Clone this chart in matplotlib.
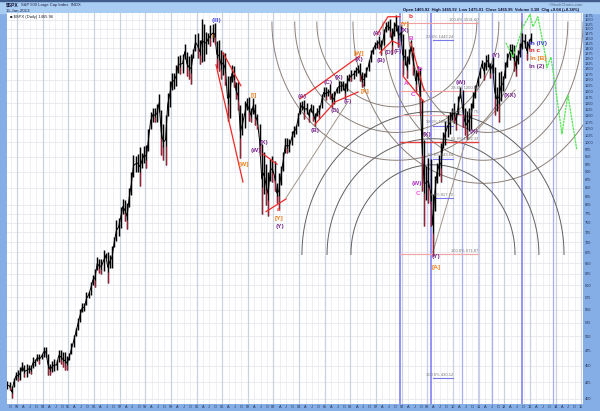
import numpy as np
import matplotlib
matplotlib.use("Agg")
import matplotlib.pyplot as plt
from matplotlib.patches import Rectangle

plt.rcParams['font.family'] = ['Liberation Sans', 'DejaVu Sans']

# ---------- price data: (low, high) per month ----------
start_year = 1992 + 7 / 12
highs = [427,425,419,431,441,
 443,449,456,451,453,452,451,464,462,470,469,470,
 482,482,469,454,458,462,459,477,476,473,473,466,
 472,488,503,515,535,552,563,563,586,587,608,623,
 636,664,660,660,680,673,677,670,690,714,758,762,
 794,818,815,805,851,898,957,954,959,983,963,987,
 992,1050,1113,1132,1130,1145,1190,1121,1066,1103,1192,1244,
 1280,1283,1316,1362,1368,1373,1420,1382,1362,1373,1396,1473,
 1478,1443,1552,1527,1481,1478,1518,1525,1530,1436,1440,1389,
 1383,1376,1268,1269,1316,1312,1239,1239,1143,1110,1160,1173,
 1176,1130,1173,1147,1106,1067,994,965,925,900,941,954,
 935,865,895,919,965,1015,1015,1011,1040,1062,1063,1112,
 1155,1158,1163,1150,1128,1146,1141,1109,1131,1141,1188,1217,
 1217,1212,1230,1191,1200,1220,1246,1245,1243,1234,1271,1276,
 1295,1297,1311,1318,1327,1284,1280,1310,1340,1389,1407,1431,
 1441,1461,1439,1498,1535,1540,1556,1503,1538,1576,1523,1523,
 1471,1396,1359,1397,1440,1404,1293,1313,1303,1167,1007,919,
 944,943,832,888,930,956,996,1039,1080,1101,1113,1130,
 1150,1112,1180,1220,1206,1131,1120,1129,1149,1196,1227,1263,
 1303,1344,1332,1364,1371,1329,1356,1307,1220,1285,1292,1269,
 1333,1378,1420,1422,1415,1364,1392,1426,1475,1470,1434,1448,
 1475]
lows = [414,413,402,418,428,
 427,428,442,432,433,439,438,447,450,458,454,461,
 465,465,436,435,440,442,444,457,454,449,444,443,
 459,470,481,500,511,527,545,547,559,573,580,601,
 597,633,627,625,632,662,605,639,639,687,703,716,
 737,773,756,733,793,829,885,899,899,855,913,928,
 912,969,1047,1076,1074,1074,1114,957,939,923,1098,1136,
 1205,1212,1222,1282,1277,1279,1346,1268,1256,1233,1352,1388,
 1350,1325,1333,1339,1373,1420,1413,1430,1419,1305,1291,1254,
 1274,1228,1081,1091,1241,1219,1168,1124,945,1026,1054,1124,
 1081,1074,1106,1063,1048,952,775,833,800,768,872,869,
 840,806,788,858,902,963,962,965,990,1018,1031,1061,
 1105,1124,1088,1107,1076,1113,1078,1060,1099,1090,1131,1174,
 1163,1180,1168,1136,1146,1191,1194,1201,1205,1168,1202,1246,
 1245,1253,1268,1282,1245,1219,1224,1261,1292,1331,1372,1396,
 1403,1398,1364,1416,1481,1492,1455,1371,1463,1489,1406,1435,
 1270,1317,1257,1324,1386,1272,1200,1248,1106,840,741,815,
 805,741,667,783,866,888,869,979,992,1020,1029,1085,
 1071,1045,1105,1170,1056,1028,1011,1040,1050,1131,1173,1224,
 1257,1302,1249,1295,1311,1258,1283,1101,1118,1074,1158,1202,
 1259,1311,1340,1357,1292,1267,1325,1354,1396,1403,1343,1398,
 1426]

year_ticks = list(range(1993, 2016))
price_ticks = list(range(400, 1600, 25))
grid_prices = list(range(400, 800, 25)) + list(range(800, 1600, 50))

# ---------- analyst annotations (year, price) ----------
wave_labels = [
 ("(III)",2000.76,1544,'#5050e8'),("I",2000.64,1458,'#f08020'),("[I]",2002.24,1181,'#f08020'),
 ("(W)",2002.32,973,'#7a2a90'),("(X)",2002.63,998,'#7a2a90'),("[W]",2001.85,923,'#f08020'),
 ("a",2003.21,786,'#e02020'),("[Y]",2003.21,761,'#f08020'),("(Y)",2003.25,740,'#7a2a90'),
 ("(A)",2004.11,1176,'#7a2a90'),("(C)",2005.12,1237,'#7a2a90'),("(X)",2005.55,1260,'#7a2a90'),
 ("[W]",2006.33,1372,'#f08020'),("(X)",2006.33,1343,'#7a2a90'),("(A)",2007.04,1474,'#7a2a90'),
 ("(B)",2007.19,1338,'#7a2a90'),("(D)",2007.5,1377,'#7a2a90'),("(F)",2007.85,1382,'#7a2a90'),
 ("b",2008.36,1566,'#e02020'),("[Y]",2008.13,1525,'#f08020'),("(X)",2008.13,1489,'#7a2a90'),
 ("B",2008.36,1448,'#e040e0'),("D",2008.71,1296,'#e040e0'),("A",2008.17,1232,'#e040e0'),
 ("C",2008.44,1185,'#e040e0'),("[X]",2006.57,1198,'#f08020'),("(F)",2005.9,1155,'#7a2a90'),
 ("(D)",2005.4,1120,'#7a2a90'),("(B)",2004.62,1044,'#7a2a90'),("(X)",2008.98,1030,'#7a2a90'),
 ("(W)",2008.59,862,'#b030c0'),("C",2008.63,832,'#ff50e8'),("(W)",2010.31,1237,'#7a2a90'),
 ("(X)",2010.82,1040,'#7a2a90'),("(Y)",2011.67,1362,'#7a2a90'),("(XX)",2012.22,1181,'#7a2a90'),
 ("ln (IV)",2013.31,1422,'#4040d8'),("ln c",2013.16,1386,'#e02020'),("ln [B]",2013.31,1348,'#f08020'),
 ("ln (2)",2013.27,1310,'#7a2a90'),("(Y)",2009.34,665,'#7a2a90'),("[A]",2009.34,640,'#f08020'),
]
red_lines = [
 ([2001.03,2001.73],[1377,1224]),
 ([2000.76,2001.81],[1319,868]),
 ([2002.59,2003.14],[960,925]),
 ([2002.71,2003.49],[781,817]),
 ([2004.03,2006.37],[1168,1362]),
 ([2004.62,2005.4,2006.3],[1067,1155,1197]),
 ([2007.04,2007.46,2007.93],[1469,1566,1566]),
 ([2007.15,2007.62,2007.93],[1377,1437,1418]),
 ([2008.36,2008.87],[1427,1203]),
 ([2008.05,2008.87],[1267,1155]),
]
green_years = [2012.06,2012.34,2012.73,2013.0,2013.12,2013.31,2013.62,2013.66,2013.82,2013.97,2014.25,2014.48,2014.83]
green_prices = [1427,1356,1511,1578,1511,1566,1353,1305,1356,1237,1031,1185,973]
grey_lines = [
 ([2003.49,2005.9],[820,1155]),
 ([2009.22,2010.47,2012.42],[676,998,1206]),
]
# arcs: centre year, centre price, half width in years, price at the far end
bowls = [(2007.81,1537,3.12,1135),(2007.81,1537,3.98,1036),(2007.81,1537,4.87,938),
         (2011.36,1537,3.12,1036),(2011.17,1537,3.90,938),(2011.17,1537,5.07,864)]
domes = [(2009.22,670,3.20,923),(2009.22,670,4.13,1013),(2009.22,670,5.11,1116)]
fib_levels = [(1532,'#f0a0a0',0.8,"100.0% 1531.60"),(1200,'#f0a0a0',0.8,"23.6% 1200.89"),
              (1102,'#f0b0b0',0.7,"38.2% 1102.75"),(1002,'#e04040',1.0,"61.8% 1002.32"),
              (672,'#f0a8a8',0.9,"100.0% 671.87")]
fib_blue = [(1442,"23.6% 1442.24"),(1062,"38.2% 1063.31"),(943.6,"61.8% 943.64"),
            (820,"78.6% 817.72"),(431,"100.0% 430.12")]
vlines_strong = [2007.93,2009.14,2012.69]
vlines_medium = [2010.34,2011.51,2013.9]
vlines_light = [2008.98,2010.98]

# ---------- figure ----------
W, H = 600, 411
fig = plt.figure(figsize=(W/100, H/100), dpi=100, facecolor='#86aee6')
ax = fig.add_axes([7/W, 1-404/H, 576/W, 391/H], facecolor='white')
ax.set_yscale('log')
ax.set_xlim(1992.61, 2015.07)
ax.set_ylim(392.9, 1587)

# banner
fig.add_artist(Rectangle((0, 1-13/H), 1, 13/H, transform=fig.transFigure, color='#a8ccf2', zorder=0))
fig.add_artist(Rectangle((0, 1-1.2/H), 1, 1.2/H, transform=fig.transFigure, color='#3f5c8c', zorder=1))

# grid
for q in np.arange(1992.75, 2015.1, 0.25):
    ax.axvline(q, color='#eceef3', lw=0.6, zorder=1)
for p in grid_prices:
    ax.axhline(p, color='#e6e8ef', lw=0.6, zorder=1)
for y in year_ticks:
    ax.axvline(y, color='#ccd2dd', lw=0.9, zorder=1.1)

# blue verticals
for x in vlines_light:
    ax.axvline(x, color='#c8ccf0', lw=0.8, zorder=1.5)
for x in vlines_medium:
    ax.axvline(x, color='#a8aef4', lw=0.9, zorder=1.5)
for x in vlines_strong:
    ax.axvline(x, color='#7878f0', lw=1.1, zorder=1.5)

# arcs
t = np.linspace(0, np.pi, 160)
for cx, cp, rx, far in bowls:
    ax.plot(cx + rx*np.cos(t), np.exp(np.log(cp) + (np.log(far)-np.log(cp))*np.sin(t)),
            color='#8c8078', lw=0.7, zorder=2)
for cx, cp, rx, far in domes:
    ax.plot(cx + rx*np.cos(t), np.exp(np.log(cp) + (np.log(far)-np.log(cp))*np.sin(t)),
            color='#606060', lw=0.7, zorder=2)
for xs, ys in grey_lines:
    ax.plot(xs, ys, color='#a09488', lw=0.7, zorder=2)

# fibonacci levels
for p, c, lw, label in fib_levels:
    ax.plot([2007.93, 2010.98], [p, p], color=c, lw=lw, zorder=2.2)
    ax.text(2010.98, p*1.004, label, fontsize=3, color='#777777', ha='right', va='bottom', zorder=5)
for p, label in fib_blue:
    ax.plot([2009.22, 2010.0], [p, p], color='#7878e8', lw=0.8, zorder=2.2)
    ax.text(2010.0, p*1.004, label, fontsize=3, color='#777777', ha='right', va='bottom', zorder=5)

# price bars
n = len(highs)
xs = start_year + (np.arange(n) + 0.5)/12
hi = np.array(highs, float)
lo = np.array(lows, float)
mid = np.sqrt(hi*lo)
ax.plot(xs, mid, color='black', lw=0.7, zorder=3, solid_joinstyle='round')
ax.vlines(xs, lo, hi, color='black', lw=1.05, zorder=3)
down = np.r_[False, lo[1:] < lo[:-1]]
ax.vlines(xs[down], lo[down], (lo + 0.35*(hi-lo))[down], color='#e02040', lw=0.55, zorder=3.2)

# green projection and red trend lines
ax.plot(green_years, green_prices, color='#50e850', lw=0.9, ls=(0, (2, 0.6)), zorder=3.5)
for xs_, ys_ in red_lines:
    ax.plot(xs_, ys_, color='#f02828', lw=0.9, zorder=3.6)

# wave labels
for s, x, p, c in wave_labels:
    ax.text(x, p, s, color=c, fontsize=4.6, fontweight='bold', ha='center', va='center', zorder=6)

# axes
for s in ax.spines.values():
    s.set_visible(False)
ax.yaxis.tick_right()
ax.set_yticks(price_ticks)
ax.set_yticklabels([str(p) for p in price_ticks], fontsize=2.8, color='#223355')
ax.minorticks_off()
ax.tick_params(axis='y', length=0, pad=1)
qt = []
ql = []
for y in range(1992, 2016):
    for m, l in enumerate([f"{y%100:02d}", "A", "J", "O"]):
        v = y + m*0.25
        if 1992.61 <= v <= 2015.07:
            qt.append(v)
            ql.append(l)
ax.set_xticks(qt)
ax.set_xticklabels(ql, fontsize=2.8, color='#223355')
ax.tick_params(axis='x', length=0, pad=1)

# header texts
fig.text(6/W, 1-5/H, "$SPX", fontsize=3.6, fontweight='bold', color='#111133', va='center')
fig.text(21/W, 1-5/H, "S&P 500 Large Cap Index  INDX", fontsize=3, color='#222244', va='center')
fig.text(6/W, 1-10.5/H, "15-Jan-2013", fontsize=3.2, color='#222244', va='center')
fig.text(403/W, 1-10/H, "Open 1465.92  High 1465.92  Low 1475.01  Close 1465.95  Volume 3.1B  Chg +0.04 (+0.34%)",
         fontsize=3, fontweight='bold', color='#111133', va='center')
fig.text(583/W, 1-4.5/H, "\u00a9StockCharts.com", fontsize=3, color='#556688', ha='right', va='center')
ax.text(0.006, 0.994, "\u25a0 $SPX (Daily) 1465.96", transform=ax.transAxes, fontsize=3, color='#222222',
        va='top', ha='left', zorder=7)

fig.savefig("out.png", dpi=100, facecolor=fig.get_facecolor())
